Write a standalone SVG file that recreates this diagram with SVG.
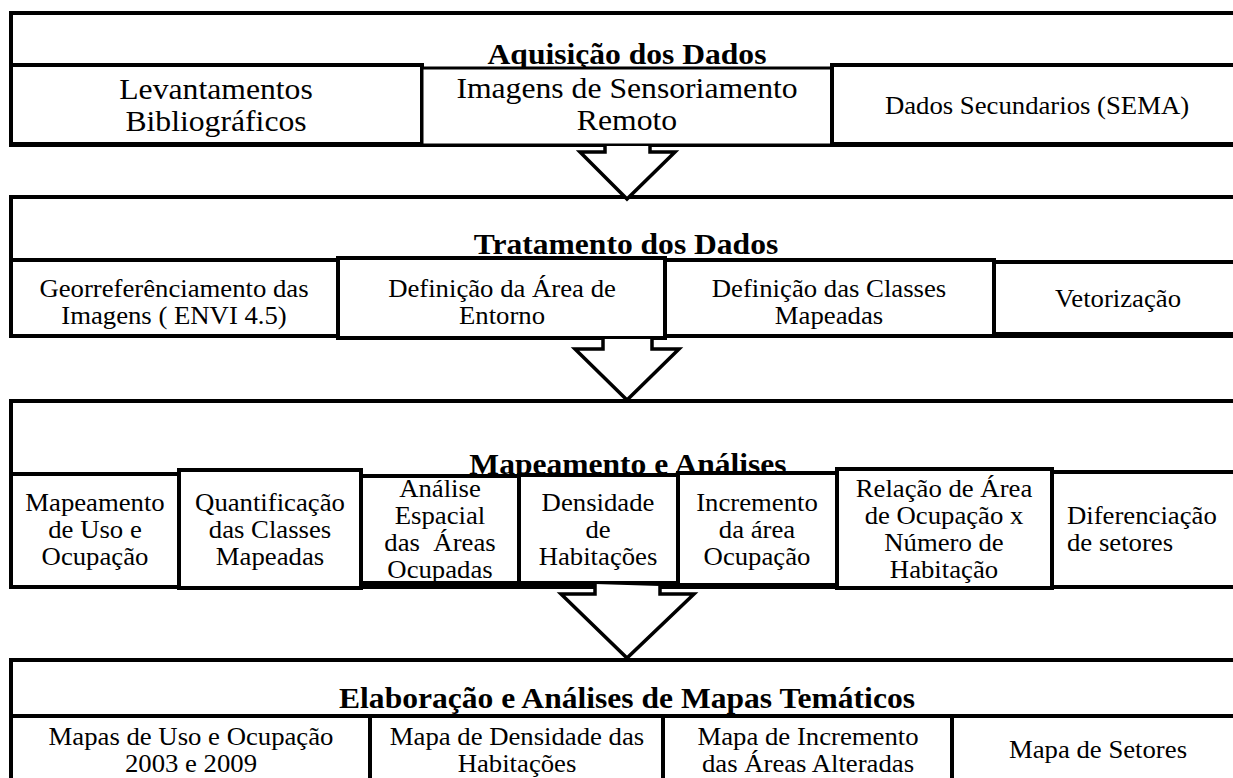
<svg xmlns="http://www.w3.org/2000/svg" width="1233" height="778" viewBox="0 0 1233 778">
<style>
  .frame{fill:#fff;stroke:#000;stroke-width:4}
  .box{fill:#fff;stroke:#000;stroke-width:4}
  .arrow{fill:#fff;stroke:#000;stroke-width:3.5;stroke-linejoin:miter}
  text{font-family:"Liberation Serif","Times New Roman",serif;fill:#000;text-anchor:middle}
  .t{font-size:28.7px;font-weight:bold}
  .l{font-size:28.8px}
  .m{font-size:24.3px}
  .st{text-anchor:start}
</style>
<rect width="1233" height="778" fill="#fff"/>

<g id="sec1">
  <rect class="frame" x="11" y="13" width="1240" height="132"/>
  <text class="t" transform="matrix(1.1 0 0 1 627 0)" x="0" y="64">Aquisição dos Dados</text>
</g>
<g id="n-levantamentos">
  <rect class="box" x="11" y="65" width="411" height="79"/>
  <text class="l" transform="matrix(1.1 0 0 1 216 0)"><tspan x="0" y="99">Levantamentos</tspan><tspan x="0" y="131">Bibliográficos</tspan></text>
</g>
<g id="n-imagens">
  <rect class="box" x="422" y="68" width="410" height="77" style="stroke-width:3"/>
  <text class="l" transform="matrix(1.1 0 0 1 627 0)"><tspan x="0" y="98">Imagens de Sensoriamento</tspan><tspan x="0" y="130">Remoto</tspan></text>
</g>
<g id="n-dados-sec">
  <rect class="box" x="832" y="65" width="420" height="79"/>
  <text class="m" transform="matrix(1.1 0 0 1 1037 0)" x="0" y="114">Dados Secundarios (SEMA)</text>
</g>

<g id="sec2">
  <rect class="frame" x="11" y="197" width="1240" height="139"/>
  <text class="t" transform="matrix(1.1 0 0 1 626 0)" x="0" y="254">Tratamento dos Dados</text>
</g>
<g id="n-georref">
  <rect class="box" x="11" y="260" width="327" height="76"/>
  <text class="m" transform="matrix(1.1 0 0 1 174 0)"><tspan x="0" y="297">Georreferênciamento das</tspan><tspan x="0" y="324">Imagens ( ENVI 4.5)</tspan></text>
</g>
<g id="n-entorno">
  <rect class="box" x="338" y="258" width="327" height="80"/>
  <text class="m" transform="matrix(1.1 0 0 1 502 0)"><tspan x="0" y="297">Definição da Área de</tspan><tspan x="0" y="324">Entorno</tspan></text>
</g>
<g id="n-classes">
  <rect class="box" x="665" y="260" width="329" height="76"/>
  <text class="m" transform="matrix(1.1 0 0 1 829 0)"><tspan x="0" y="297">Definição das Classes</tspan><tspan x="0" y="324">Mapeadas</tspan></text>
</g>
<g id="n-vetorizacao">
  <rect class="box" x="994" y="262" width="258" height="72"/>
  <text class="m" transform="matrix(1.1 0 0 1 1118 0)" x="0" y="307">Vetorização</text>
</g>

<g id="sec3">
  <rect class="frame" x="11" y="401" width="1240" height="186"/>
  <text class="t" transform="matrix(1.1 0 0 1 628 0)" x="0" y="474">Mapeamento e Análises</text>
</g>
<g id="n-mapeamento">
  <rect class="box" x="11" y="474" width="168" height="113"/>
  <text class="m" transform="matrix(1.1 0 0 1 95 0)"><tspan x="0" y="511">Mapeamento</tspan><tspan x="0" y="538">de Uso e</tspan><tspan x="0" y="565">Ocupação</tspan></text>
</g>
<g id="n-quantificacao">
  <rect class="box" x="179" y="470" width="182" height="118"/>
  <text class="m" transform="matrix(1.1 0 0 1 270 0)"><tspan x="0" y="511">Quantificação</tspan><tspan x="0" y="538">das Classes</tspan><tspan x="0" y="565">Mapeadas</tspan></text>
</g>
<g id="n-analise">
  <rect class="box" x="361" y="476" width="158" height="107"/>
  <text class="m" transform="matrix(1.1 0 0 1 440 0)"><tspan x="0" y="497">Análise</tspan><tspan x="0" y="524">Espacial</tspan><tspan x="0" y="551">das&#160; Áreas</tspan><tspan x="0" y="578">Ocupadas</tspan></text>
</g>
<g id="n-densidade">
  <rect class="box" x="519" y="475" width="159" height="108"/>
  <text class="m" transform="matrix(1.1 0 0 1 598 0)"><tspan x="0" y="511">Densidade</tspan><tspan x="0" y="538">de</tspan><tspan x="0" y="565">Habitações</tspan></text>
</g>
<g id="n-incremento">
  <rect class="box" x="678" y="473" width="159" height="112"/>
  <text class="m" transform="matrix(1.1 0 0 1 757 0)"><tspan x="0" y="511">Incremento</tspan><tspan x="0" y="538">da área</tspan><tspan x="0" y="565">Ocupação</tspan></text>
</g>
<g id="n-relacao">
  <rect class="box" x="837" y="469" width="215" height="119"/>
  <text class="m" transform="matrix(1.1 0 0 1 944 0)"><tspan x="0" y="497">Relação de Área</tspan><tspan x="0" y="524">de Ocupação x</tspan><tspan x="0" y="551">Número de</tspan><tspan x="0" y="578">Habitação</tspan></text>
</g>
<g id="n-diferenciacao">
  <rect class="box" x="1052" y="472" width="200" height="115"/>
  <text class="m st" transform="matrix(1.1 0 0 1 1067 0)"><tspan x="0" y="524">Diferenciação</tspan><tspan x="0" y="551">de setores</tspan></text>
</g>

<g id="sec4">
  <rect class="frame" x="11" y="660" width="1240" height="140"/>
  <text class="t" transform="matrix(1.1 0 0 1 627 0)" x="0" y="708">Elaboração e Análises de Mapas Temáticos</text>
</g>
<g id="n-mapas-uso">
  <rect class="box" x="11" y="716" width="359" height="84"/>
  <text class="m" transform="matrix(1.1 0 0 1 191 0)"><tspan x="0" y="745">Mapas de Uso e Ocupação</tspan><tspan x="0" y="772">2003 e 2009</tspan></text>
</g>
<g id="n-mapa-densidade">
  <rect class="box" x="370" y="716" width="293" height="84"/>
  <text class="m" transform="matrix(1.1 0 0 1 517 0)"><tspan x="0" y="745">Mapa de Densidade das</tspan><tspan x="0" y="772">Habitações</tspan></text>
</g>
<g id="n-mapa-incremento">
  <rect class="box" x="663" y="716" width="289" height="84"/>
  <text class="m" transform="matrix(1.1 0 0 1 808 0)"><tspan x="0" y="745">Mapa de Incremento</tspan><tspan x="0" y="772">das Áreas Alteradas</tspan></text>
</g>
<g id="n-mapa-setores">
  <rect class="box" x="952" y="716" width="300" height="84"/>
  <text class="m" transform="matrix(1.1 0 0 1 1098 0)" x="0" y="758">Mapa de Setores</text>
</g>

<g id="connectors">
  <polyline class="arrow" points="605,146 605,152 580,152 627,199 675,152 650,152 650,146"/>
  <polyline class="arrow" points="603,339 603,349 575,349 627,400 679,349 652,349 652,339"/>
  <polyline class="arrow" points="595,584 595,594 561,594 627,658 694,594 660,594 660,586"/>
</g>
</svg>
